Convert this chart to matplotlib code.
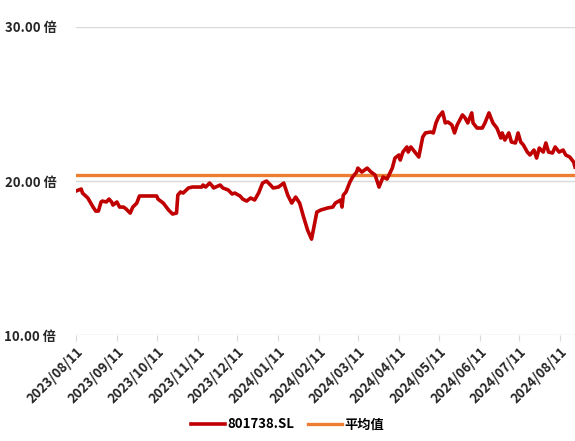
import matplotlib
matplotlib.use('Agg')
import matplotlib.pyplot as plt
import pandas as pd

plt.rcParams['font.family'] = ['Noto Sans CJK SC', 'DejaVu Sans']

# PE series of 801738.SL
dates = [
    '2023-08-11', '2023-08-15', '2023-08-16', '2023-08-20', '2023-08-24', '2023-08-26',
    '2023-08-28', '2023-08-30', '2023-08-31', '2023-09-03', '2023-09-05', '2023-09-07',
    '2023-09-08', '2023-09-11', '2023-09-13', '2023-09-16', '2023-09-18', '2023-09-21',
    '2023-09-23', '2023-09-26', '2023-09-28', '2023-10-06', '2023-10-11', '2023-10-12',
    '2023-10-16', '2023-10-20', '2023-10-23', '2023-10-26', '2023-10-27', '2023-10-29',
    '2023-10-31', '2023-11-04', '2023-11-07', '2023-11-14', '2023-11-15', '2023-11-17',
    '2023-11-20', '2023-11-22', '2023-11-23', '2023-11-28', '2023-11-30', '2023-12-04',
    '2023-12-07', '2023-12-09', '2023-12-13', '2023-12-15', '2023-12-18', '2023-12-21',
    '2023-12-24', '2023-12-27', '2023-12-30', '2024-01-02', '2024-01-05', '2024-01-07',
    '2024-01-11', '2024-01-15', '2024-01-18', '2024-01-21', '2024-01-24', '2024-01-27',
    '2024-01-30', '2024-02-02', '2024-02-05', '2024-02-09', '2024-02-12', '2024-02-17',
    '2024-02-21', '2024-02-23', '2024-02-27', '2024-02-28', '2024-02-29', '2024-03-02',
    '2024-03-05', '2024-03-07', '2024-03-10', '2024-03-11', '2024-03-14', '2024-03-18',
    '2024-03-21', '2024-03-24', '2024-03-27', '2024-03-30', '2024-04-02', '2024-04-06',
    '2024-04-08', '2024-04-11', '2024-04-12', '2024-04-14', '2024-04-17', '2024-04-18',
    '2024-04-20', '2024-04-23', '2024-04-26', '2024-04-29', '2024-05-01', '2024-05-05',
    '2024-05-07', '2024-05-09', '2024-05-11', '2024-05-14', '2024-05-16', '2024-05-18',
    '2024-05-21', '2024-05-23', '2024-05-25', '2024-05-29', '2024-05-31', '2024-06-02',
    '2024-06-05', '2024-06-06', '2024-06-09', '2024-06-13', '2024-06-15', '2024-06-18',
    '2024-06-21', '2024-06-24', '2024-06-27', '2024-06-28', '2024-06-30', '2024-07-03',
    '2024-07-05', '2024-07-08', '2024-07-10', '2024-07-12', '2024-07-14', '2024-07-17',
    '2024-07-19', '2024-07-22', '2024-07-24', '2024-07-26', '2024-07-29', '2024-07-31',
    '2024-08-02', '2024-08-05', '2024-08-07', '2024-08-10', '2024-08-13', '2024-08-15',
    '2024-08-18', '2024-08-21', '2024-08-22',
]
pe = [
    19.35, 19.48, 19.22, 18.90, 18.31, 18.05,
    18.05, 18.64, 18.70, 18.64, 18.83, 18.64,
    18.44, 18.64, 18.31, 18.31, 18.18, 17.92,
    18.31, 18.57, 19.03, 19.03, 19.03, 18.83,
    18.57, 18.12, 17.86, 17.92, 19.09, 19.29,
    19.22, 19.55, 19.61, 19.61, 19.74, 19.61,
    19.87, 19.68, 19.55, 19.74, 19.55, 19.42,
    19.16, 19.22, 19.03, 18.83, 18.70, 18.90,
    18.77, 19.22, 19.87, 20.00, 19.74, 19.55,
    19.61, 19.87, 19.09, 18.57, 18.96, 18.57,
    17.66, 16.82, 16.23, 17.99, 18.12, 18.25,
    18.31, 18.57, 18.77, 18.31, 19.09, 19.29,
    19.94, 20.26, 20.58, 20.84, 20.58, 20.84,
    20.58, 20.39, 19.61, 20.26, 20.13, 20.84,
    21.49, 21.69, 21.36, 21.88, 22.21, 21.88,
    22.21, 21.88, 21.56, 22.86, 23.12, 23.18,
    23.12, 23.77, 24.16, 24.48, 23.77, 23.83,
    23.64, 23.12, 23.64, 24.29, 24.09, 23.77,
    24.42, 23.77, 23.44, 23.44, 23.77, 24.42,
    23.77, 23.44, 22.79, 23.12, 22.66, 23.12,
    22.53, 22.47, 23.12, 22.53, 22.34, 21.88,
    21.69, 22.01, 21.49, 22.14, 21.88, 22.47,
    21.88, 21.82, 22.21, 21.88, 22.01, 21.69,
    21.56, 21.23, 20.91,
]
mean_value = 20.4
series_name = '801738.SL'
mean_name = '平均值'
tick_dates = ['2023-08-11', '2023-09-11', '2023-10-11', '2023-11-11', '2023-12-11',
              '2024-01-11', '2024-02-11', '2024-03-11', '2024-04-11', '2024-05-11',
              '2024-06-11', '2024-07-11', '2024-08-11']
y_ticks = [10, 20, 30]

x = pd.to_datetime(dates)
x_start, x_end = pd.Timestamp('2023-08-11'), pd.Timestamp('2024-08-22')

fig = plt.figure(figsize=(5.75, 4.41), dpi=100)
ax = fig.add_axes([0.132, 0.240, 0.868, 0.699])

ax.plot(x, pe, color='#C00000', lw=2.6, label=series_name, zorder=3)
ax.plot([x_start, x_end], [mean_value, mean_value],
        color='#ED7D31', lw=2.4, label=mean_name, zorder=2)

ax.set_xlim(x_start, x_end)
ax.set_ylim(10, 30)
ax.set_yticks(y_ticks)
ax.set_yticklabels(['%.2f 倍' % v for v in y_ticks], fontsize=9.5, fontweight='bold', color='#262626')
ax.set_xticks(pd.to_datetime(tick_dates))
ax.set_xticklabels([d.replace('-', '/') for d in tick_dates], rotation=45, ha='right',
                   rotation_mode='anchor', fontsize=9.5, fontweight='bold', color='#262626')

ax.grid(axis='y', color='#D9D9D9', lw=1)
ax.set_axisbelow(True)
for s in ax.spines.values():
    s.set_visible(False)
ax.tick_params(axis='y', length=0, pad=14)
ax.tick_params(axis='x', length=4, color='#D9D9D9', pad=3)

fig.legend(loc='lower center', bbox_to_anchor=(0.5, -0.005), ncol=2, frameon=False,
           handlelength=2.6, columnspacing=1.0, handletextpad=0.2,
           prop={'size': 9.5, 'weight': 'bold'})

fig.savefig('out.png', dpi=100)
